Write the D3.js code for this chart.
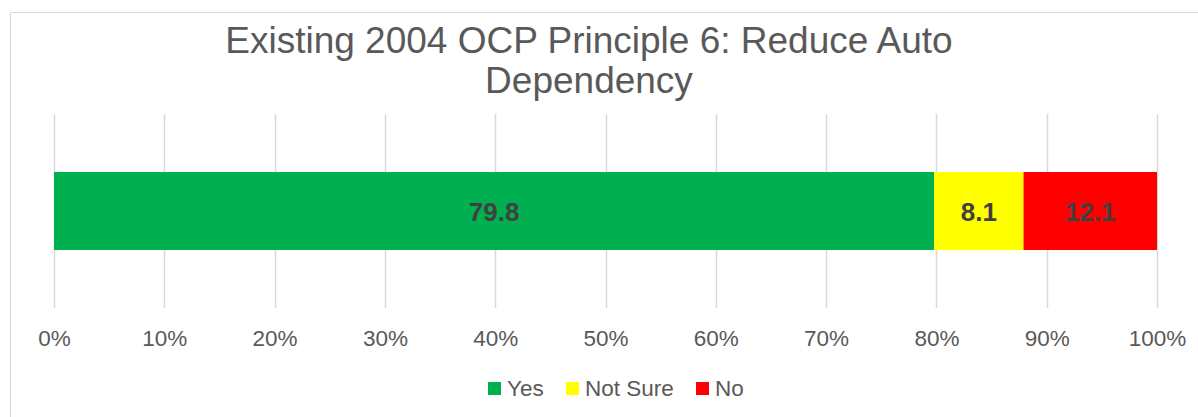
<!DOCTYPE html>
<html><head><meta charset="utf-8">
<script src="https://cdn.jsdelivr.net/npm/d3@7"></script>
<style>body{margin:0;background:#fff}svg{display:block;font-family:"Liberation Sans",Arial,sans-serif}</style>
</head><body><svg id="c" width="1198" height="417"></svg>
<script>
const titleLines = ["Existing 2004 OCP Principle 6: Reduce Auto", "Dependency"];
const seriesNames = ["Yes", "Not Sure", "No"];
const seriesValues = [79.8, 8.1, 12.1];
const seriesColors = ["#00B050", "#FFFF00", "#FF0000"];
const tickValues = [0, 0.1, 0.2, 0.3, 0.4, 0.5, 0.6, 0.7, 0.8, 0.9, 1.0];

const svg = d3.select("#c");
// chart border
svg.append("path").attr("d", "M10.5,417 V12.5 H1198").attr("fill", "none").attr("stroke", "#d9d9d9").attr("stroke-width", 1);

const x = d3.scaleLinear().domain([0, 1]).range([54, 1157]);
const plotTop = 114, plotBottom = 308;

// gridlines
svg.append("g").selectAll("line").data(tickValues).join("line")
  .attr("x1", d => Math.round(x(d)) + 0.5).attr("x2", d => Math.round(x(d)) + 0.5)
  .attr("y1", plotTop).attr("y2", plotBottom)
  .attr("stroke", "#d9d9d9").attr("stroke-width", 1.5);

// axis labels
const axis = d3.axisBottom(x).tickValues(tickValues).tickFormat(d3.format(".0%")).tickSize(0).tickPadding(0);
const ag = svg.append("g").attr("transform", `translate(0,${plotBottom})`).call(axis);
ag.select(".domain").remove();
ag.selectAll("text").attr("font-size", 22.5).attr("fill", "#595959").attr("dy", null).attr("y", 38)
  .attr("font-family", "'Liberation Sans',Arial,sans-serif");

// stacked bar
let cum = 0;
const segs = seriesValues.map((v, i) => { const s = {name: seriesNames[i], v, start: cum, color: seriesColors[i]}; cum += v; return s; });
const barY = 172, barH = 78;
svg.append("g").selectAll("rect").data(segs).join("rect")
  .attr("x", d => x(d.start / 100)).attr("width", d => x((d.start + d.v) / 100) - x(d.start / 100))
  .attr("y", barY).attr("height", barH).attr("fill", d => d.color);
svg.append("g").selectAll("text").data(segs).join("text")
  .attr("x", d => x((d.start + d.v / 2) / 100)).attr("y", 221)
  .attr("text-anchor", "middle").attr("font-size", 26).attr("font-weight", "bold").attr("fill", "#404040")
  .text(d => d.v.toFixed(1));

// title
svg.append("g").selectAll("text").data(titleLines).join("text")
  .attr("x", 589).attr("y", (d, i) => 53 + i * 40).attr("text-anchor", "middle")
  .attr("font-size", 37).attr("fill", "#595959").text(d => d);

// legend
const legendX = [488, 566, 696];
const lg = svg.append("g").selectAll("g").data(seriesNames).join("g")
  .attr("transform", (d, i) => `translate(${legendX[i]},0)`);
lg.append("rect").attr("x", 0).attr("y", 382).attr("width", 13).attr("height", 13).attr("fill", (d, i) => seriesColors[i]);
lg.append("text").attr("x", 19).attr("y", 396).attr("font-size", 22.5).attr("fill", "#595959").text(d => d);
</script></body></html>
